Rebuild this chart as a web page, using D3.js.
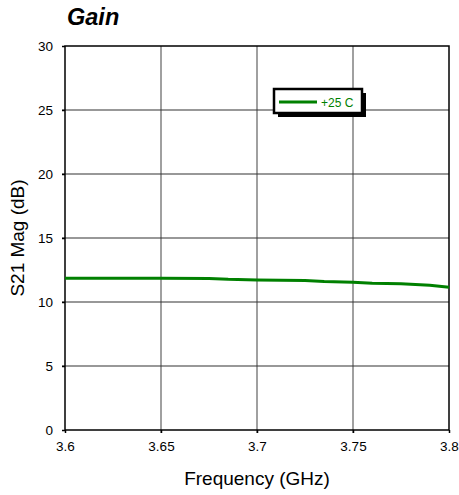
<!DOCTYPE html>
<html><head><meta charset="utf-8">
<script src="https://cdn.jsdelivr.net/npm/d3@7"></script>
<style>body{margin:0;background:#fff}svg{display:block;font-family:Arial,"Liberation Sans",sans-serif}</style>
</head><body>
<script>
const freq = [3.600, 3.625, 3.650, 3.675, 3.685, 3.700, 3.725, 3.735, 3.750, 3.760, 3.775, 3.790, 3.800];
const gain = [11.85, 11.85, 11.85, 11.84, 11.77, 11.72, 11.68, 11.60, 11.55, 11.47, 11.42, 11.30, 11.15];
const xTicks = [3.6, 3.65, 3.7, 3.75, 3.8];
const xTickLabels = ["3.6", "3.65", "3.7", "3.75", "3.8"];
const yTicks = [0, 5, 10, 15, 20, 25, 30];
const seriesName = "+25 C";

const W = 459, H = 495;
const m = {left: 65, top: 46, right: 10, bottom: 65};
const pw = W - m.left - m.right, ph = H - m.top - m.bottom;
const svg = d3.select("body").append("svg").attr("width", W).attr("height", H);
const x = d3.scaleLinear().domain([3.6, 3.8]).range([m.left, m.left + pw]);
const y = d3.scaleLinear().domain([0, 30]).range([m.top + ph, m.top]);

// grid
svg.append("g").selectAll("line").data(xTicks.slice(1, -1)).join("line")
  .attr("x1", d => x(d)).attr("x2", d => x(d)).attr("y1", y(30)).attr("y2", y(0) + 3)
  .attr("stroke", "#808080").attr("stroke-width", 1.5);
svg.append("g").selectAll("line").data(yTicks.slice(1, -1)).join("line")
  .attr("x1", x(3.6) - 3).attr("x2", x(3.8)).attr("y1", d => y(d)).attr("y2", d => y(d))
  .attr("stroke", "#333").attr("stroke-width", 1.2);

// axes
const xa = svg.append("g").attr("transform", `translate(0,${y(0)})`)
  .call(d3.axisBottom(x).tickValues(xTicks).tickFormat((d, i) => xTickLabels[i]).tickSize(3).tickPadding(8));
const ya = svg.append("g").attr("transform", `translate(${x(3.6)},0)`)
  .call(d3.axisLeft(y).tickValues(yTicks).tickSize(3).tickPadding(9));
[xa, ya].forEach(a => {
  a.select(".domain").remove();
  a.selectAll("line").attr("stroke", "#000").attr("stroke-width", 1.5);
  a.selectAll("text").attr("font-size", 13.5).attr("fill", "#000").attr("font-family", "Arial, Liberation Sans, sans-serif");
});
svg.append("rect").attr("x", x(3.6)).attr("y", y(30)).attr("width", x(3.8) - x(3.6)).attr("height", y(0) - y(30))
  .attr("fill", "none").attr("stroke", "#000").attr("stroke-width", 1.5);

// line
svg.append("path").datum(freq.map((f, i) => [f, gain[i]]))
  .attr("fill", "none").attr("stroke", "#008000").attr("stroke-width", 3)
  .attr("d", d3.line().x(d => x(d[0])).y(d => y(d[1])));

// legend
const lg = svg.append("g");
lg.append("rect").attr("x", 278).attr("y", 93).attr("width", 88).attr("height", 24).attr("fill", "#000");
lg.append("rect").attr("x", 274).attr("y", 89).attr("width", 88).attr("height", 24).attr("fill", "#fff").attr("stroke", "#000").attr("stroke-width", 2.5);
lg.append("line").attr("x1", 279).attr("x2", 317).attr("y1", 102).attr("y2", 102).attr("stroke", "#008000").attr("stroke-width", 3);
lg.append("text").attr("x", 321).attr("y", 106.5).attr("font-size", 12).attr("fill", "#008000").text(seriesName);

// titles
svg.append("text").attr("x", 67).attr("y", 25).attr("font-size", 23.5).attr("font-weight", "bold").attr("font-style", "italic").text("Gain");
svg.append("text").attr("x", x(3.7)).attr("y", 485).attr("text-anchor", "middle").attr("font-size", 19).text("Frequency (GHz)");
svg.append("text").attr("transform", `translate(24,${(y(0) + y(30)) / 2}) rotate(-90)`).attr("text-anchor", "middle").attr("font-size", 19).text("S21 Mag (dB)");
</script>
</body></html>
